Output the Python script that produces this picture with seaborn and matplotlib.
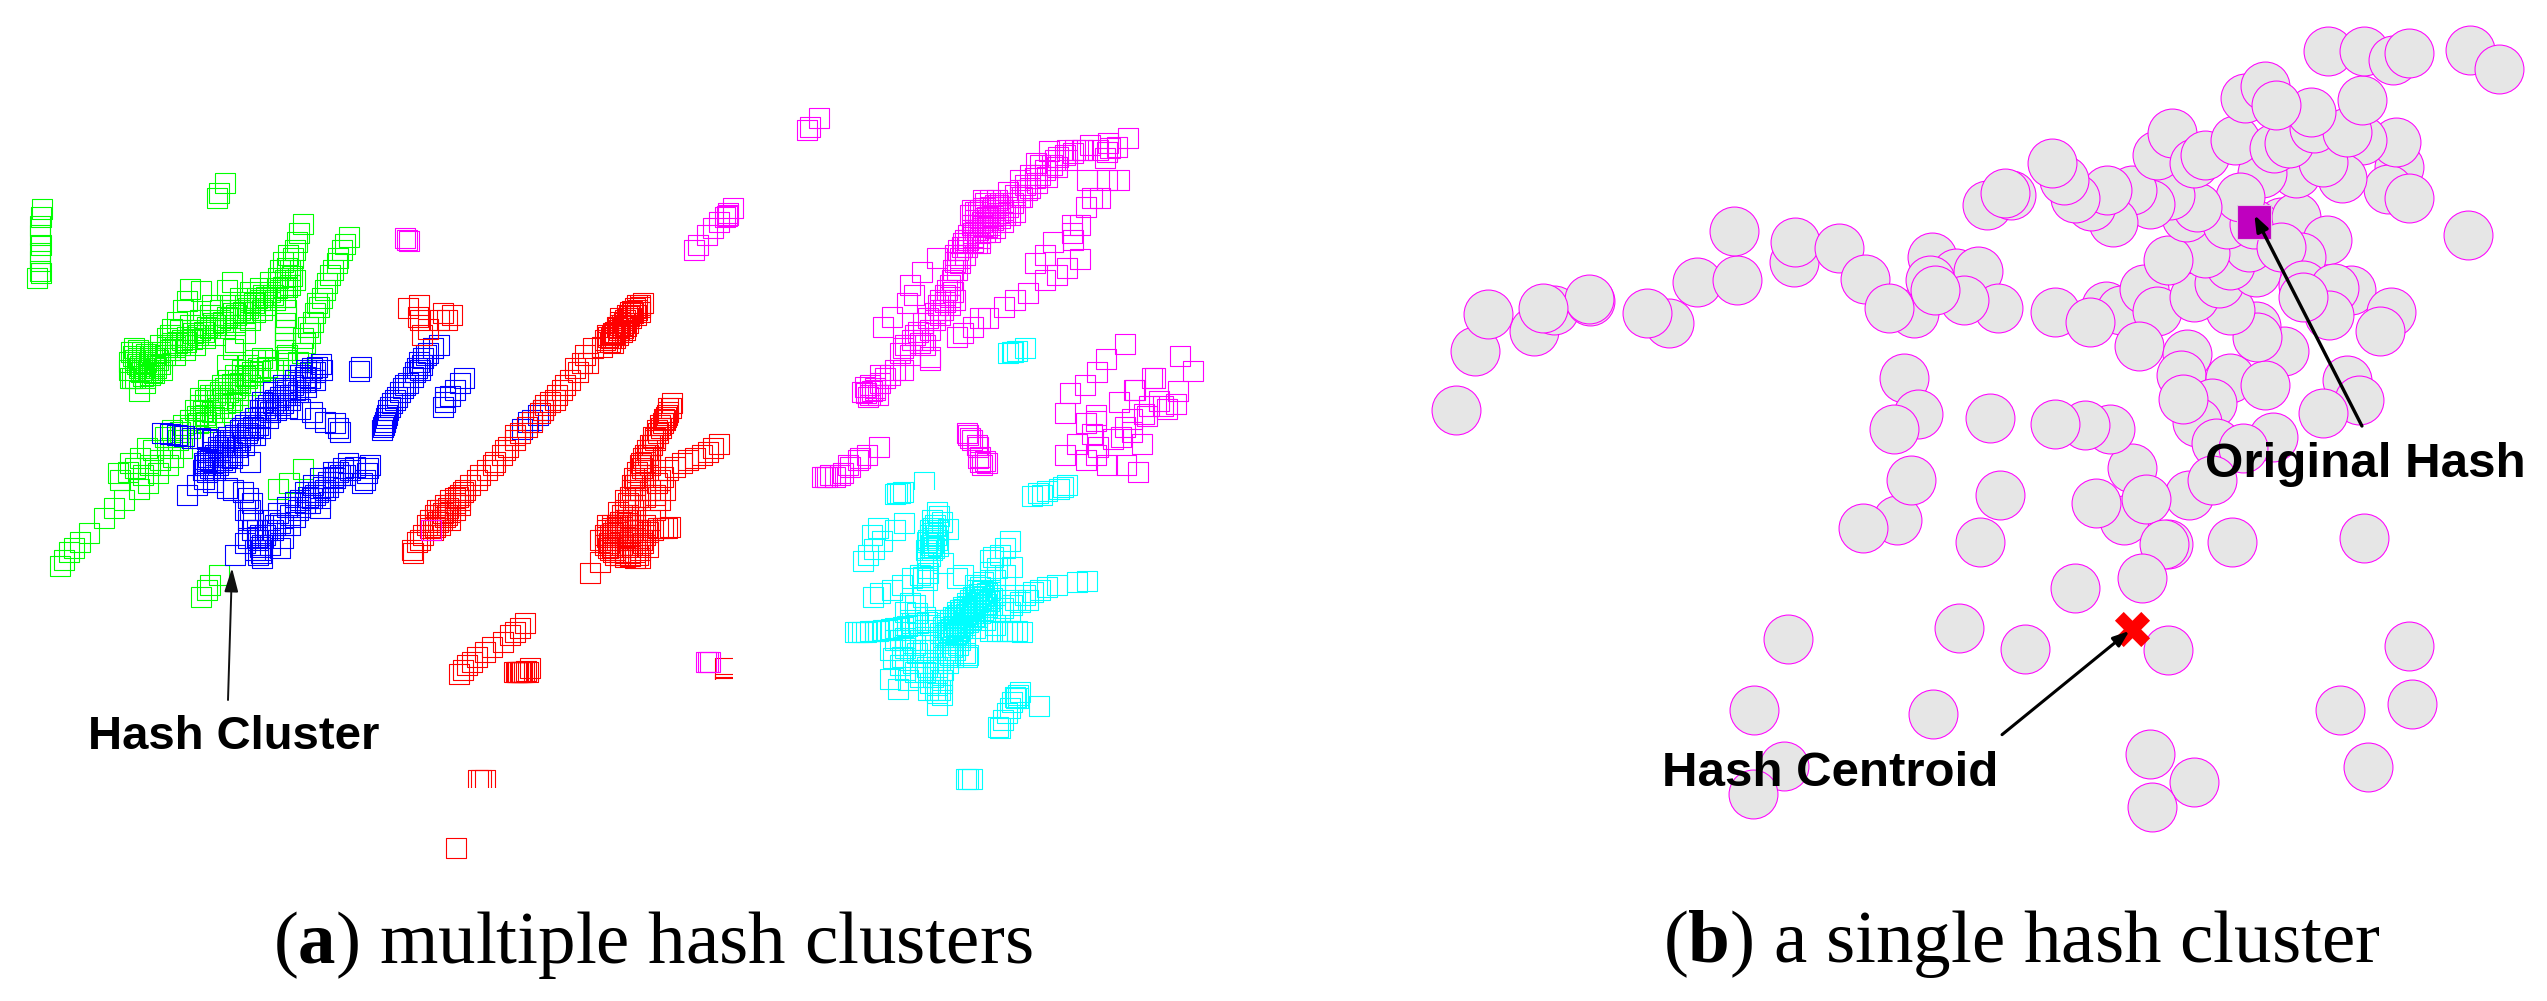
import pandas as pd
import seaborn as sns
import matplotlib.pyplot as plt
from matplotlib.patches import Rectangle

sns.set_theme(style="white")
plt.rcParams['font.family'] = ['Liberation Sans', 'DejaVu Sans']
plt.rcParams['mathtext.fontset'] = 'custom'
plt.rcParams['mathtext.bf'] = 'Liberation Serif:bold'
plt.rcParams['mathtext.rm'] = 'Liberation Serif'

# Panel (a): hash positions per cluster
green_pts = [
    (225,183),(219,193),(217,198),
    (42,209),(41,217),(40,226),(40,235),(41,245),(40,253),(40,261),(40,271),(41,273),(37,278),
    (303,224),(299,233),(297,242),(295,250),(293,258),(287,268),(292,276),(280,270),(287,287),(285,297),
    (286,310),(286,317),(285,323),(285,330),(285,337),(285,343),(285,350),(286,360),(287,355),
    (349,237),(345,244),(342,250),(338,258),(337,263),(330,275),(327,283),(322,298),(319,307),(315,313),
    (313,322),(310,333),(305,343),(302,353),(298,362),(303,338),(308,327),(317,303),(325,290),(333,270),
    (131,352),(133,356),(135,360),(137,364),(139,368),(141,372),(143,376),(134,348),(138,350),(142,352),
    (146,354),(150,356),(154,358),(158,360),(138,358),(142,360),(146,362),(150,364),(154,366),(140,366),
    (144,368),(148,370),(152,372),(156,368),(160,364),(129,362),(129,370),(130,378),(145,378),(150,375),(135,378),
    (167,347),(172,343),(177,343),(182,340),(187,337),(193,333),(200,330),(207,327),(213,323),(220,320),
    (227,317),(233,313),(240,310),(245,305),(250,302),(257,298),(263,295),(270,292),(277,288),(283,287),
    (170,350),(175,347),(180,345),(186,342),(192,339),(198,335),(204,332),(210,328),(216,325),(223,322),
    (230,318),(236,315),(243,312),(165,355),(160,352),(248,308),(254,303),(260,300),(266,297),(273,295),
    (175,355),(185,350),(195,345),(205,338),(215,335),(225,328),(235,325),(245,318),(255,312),(265,305),(275,300),
    (160,345),(170,335),(180,330),(190,325),(200,320),(210,315),(220,310),(230,305),(240,298),(250,292),
    (260,288),(270,282),(278,278),(285,280),(290,285),(295,280),(290,270),(283,262),(288,255),
    (190,289),(201,291),(187,301),(183,310),(177,322),(172,329),(167,338),(232,282),(227,290),(212,305),
    (245,333),(235,342),(233,349),(227,365),(250,320),(262,310),
    (162,370),(154,373),(145,383),(132,378),(139,391),
    (60,566),(64,560),(69,552),(74,548),(80,542),(89,533),(104,518),(114,508),(124,500),(139,489),(148,483),
    (118,473),(130,463),(140,458),(147,448),(158,473),(168,465),(173,457),(182,448),(153,450),
    (120,480),(128,472),(135,468),(143,475),(150,465),(160,460),(170,448),(178,440),(165,437),(172,430),(180,432),
    (183,425),(190,420),(197,416),(203,411),(210,405),(217,400),(223,398),(228,392),(235,388),(240,383),
    (247,378),(253,375),(260,371),(267,367),(273,370),(278,368),(205,415),(212,412),(218,408),(225,403),
    (232,400),(238,395),(245,390),(250,385),(215,395),(220,392),(225,388),(232,384),(238,380),(245,376),(252,372),(258,368),
    (195,410),(200,405),(205,400),(210,395),(222,385),(228,380),(235,375),(242,370),(248,365),(255,360),(262,358),
    (268,360),(190,428),(198,423),(206,422),(214,417),(222,412),(230,408),(238,402),(200,398),(208,390),
    (303,469),(289,483),(278,489),
    (219,575),(210,585),(207,590),(201,597),
]
blue_pts = [
    (321,364),(317,367),(310,372),(305,377),(300,382),(293,385),(287,390),(280,397),(273,403),(267,410),
    (260,417),(253,427),(247,433),(240,440),
    (245,425),(240,430),(235,435),(230,440),(225,445),(220,450),(215,455),(210,460),(240,437),(235,442),
    (230,447),(225,452),(220,457),(215,462),(228,437),(223,442),(218,447),(213,452),(208,457),(205,465),
    (237,447),(232,452),(227,457),(222,460),
    (315,372),(305,382),(295,390),(285,395),(275,400),(265,408),(255,418),(290,395),(280,405),(270,412),
    (258,425),(248,430),(310,378),(283,385),(273,392),(262,402),
    (295,380),(300,375),(306,370),(312,368),(285,388),(278,400),(268,405),(260,410),(250,422),(242,428),(250,435),
    (244,445),(232,458),(218,465),(210,468),(203,470),(215,470),(225,462),(238,455),(255,435),(260,428),(268,418),
    (276,410),(283,403),(290,400),(298,392),(306,387),(315,380),(322,370),
    (162,433),(170,434),(177,435),(184,436),(192,438),(200,438),(207,439),(213,440),
    (204,463),(207,461),(213,463),(204,479),(207,472),(218,457),(250,462),(187,495),(197,485),(213,482),
    (227,488),(233,490),(243,492),(248,498),(252,503),(250,510),(253,520),(257,530),(257,537),(260,547),
    (261,553),(262,558),(261,550),(258,540),(235,555),(245,543),(248,538),
    (287,408),(300,409),(312,412),(315,418),(325,422),(335,423),(338,428),(340,432),
    (370,465),(368,468),(367,473),(365,480),(362,483),(348,463),(343,468),(338,472),(333,477),(328,482),
    (323,487),(318,492),(312,498),(305,503),(300,507),(295,517),(290,525),(283,538),(280,523),(273,530),
    (267,530),(340,475),(333,482),(328,487),(320,498),(310,503),(320,508),(300,500),(305,492),(313,485),(320,478),(333,472),
    (345,475),(350,470),(355,467),(335,478),(325,490),(315,495),(308,497),(298,510),(290,515),(283,525),(275,525),
    (265,535),(260,535),(270,520),(278,513),(287,507),(295,502),(255,550),(258,555),(262,545),(252,530),(248,520),
    (245,510),(270,545),(280,548),
    (361,367),(359,371),
    (439,345),(433,348),(428,353),(423,358),(422,365),(417,368),(419,362),(413,377),(408,383),(403,388),
    (397,397),(392,403),(388,410),(387,415),(385,422),(383,427),
    (426,355),(420,370),(415,372),(405,385),(400,392),(395,400),(390,407),(386,418),(384,425),(382,430),
    (464,378),(460,383),(455,390),(450,396),(445,402),(443,407),(445,397),
    (543,410),(538,415),(532,420),(528,422),(522,429),
]
red_pts = [
    (408,308),(419,305),(443,313),(452,315),(447,320),(418,317),(420,320),(428,329),(439,320),(422,335),
    (643,303),(640,307),(637,310),(633,313),(628,318),(625,320),(622,325),(618,328),(615,332),(612,335),
    (617,327),(620,322),(627,315),(630,312),(637,305),(613,333),(623,328),(628,323),(608,337),(605,340),
    (625,330),(618,335),(610,342),(607,335),(620,318),
    (640,305),(635,308),(632,311),(629,316),(624,323),(619,330),(614,334),(611,338),(622,332),(615,338),(607,342),
    (613,343),(620,325),(626,326),(631,318),(636,315),(640,312),
    (602,347),(593,348),(588,363),(582,363),(578,372),(570,380),(562,390),(557,395),(550,402),(543,410),
    (540,413),(532,422),(527,427),(520,433),(515,440),(508,447),(502,455),(495,462),(487,470),(477,480),
    (470,485),(463,492),(458,497),(455,503),(448,508),(443,513),(438,522),(435,527),(423,535),(417,542),(412,550),
    (585,355),(575,368),(565,385),(555,400),(545,405),(515,435),(505,450),(493,465),(480,475),(465,490),
    (460,495),(450,505),(445,510),(440,515),(445,517),(450,512),(435,520),(440,525),(450,520),(455,510),
    (460,505),(430,528),(413,553),(420,540),
    (440,510),(445,505),(450,500),(455,498),(460,500),(435,515),(430,520),(427,525),(433,530),(442,520),(447,515),(437,510),
    (672,403),(671,408),(668,412),(666,417),(663,423),(661,428),(658,433),(655,438),(652,445),(650,450),
    (648,455),(645,462),(642,468),(640,475),(637,480),(635,485),(632,490),(630,497),(628,503),(625,510),
    (622,515),(620,522),(617,527),(613,533),(610,540),(605,545),(612,525),(618,512),(625,500),(632,485),
    (640,465),(645,455),(655,440),(665,420),(640,490),(635,500),(625,520),(618,530),(615,540),
    (660,425),(657,430),(653,437),(650,445),(647,450),(643,458),(641,463),(637,472),(634,478),(668,408),(667,415),(664,419),
    (719,444),(713,448),(708,452),(702,455),(695,458),(688,460),(682,463),(675,467),(668,470),(663,477),
    (657,483),(650,490),(645,497),
    (607,530),(607,537),(609,543),(612,547),(615,550),(620,552),(625,553),(630,553),(635,552),(640,550),
    (612,535),(617,540),(622,545),(627,547),(632,545),(637,540),(612,528),(617,530),(622,530),(627,530),
    (632,530),(637,530),(620,537),(625,537),(630,538),(635,538),(617,525),(622,522),(627,520),(607,525),
    (640,545),(613,552),
    (610,535),(615,530),(620,525),(625,525),(630,525),(635,525),(640,530),(640,535),(642,540),(645,535),(645,525),
    (650,520),(655,510),(660,500),(655,495),(665,490),(660,480),(650,465),(645,470),(638,497),(633,510),(628,515),(622,527),
    (608,548),(615,555),(620,555),(625,557),(630,556),(635,558),(640,558),(600,540),(605,535),
    (670,527),(667,528),(663,528),(658,528),(653,530),(648,532),(643,543),(648,547),
    (638,555),(590,573),(600,562),(610,550),
    (459,674),(463,670),(467,665),(472,662),(477,657),(485,652),(492,647),(503,642),(510,635),(515,632),(520,628),(525,623),
    (514,672),(516,672),(517,672),(518,672),(520,672),(521,672),(522,672),(524,672),(526,671),(528,672),(530,668),
    (456,848),
]
red_cut_bottom = [(478,780),(481,780),(485,780)]
red_cut_right = [(725,668),(725,684),(725,687)]
magenta_pts = [
    (819,118),(810,127),(807,130),
    (733,208),(728,213),(725,217),(719,222),(713,228),(707,235),(698,245),(694,250),(728,215),(727,216),
    (405,238),(407,240),(409,241),(431,530),
    (868,397),(862,392),(870,395),(866,393),(872,391),(875,388),(880,383),(885,378),(890,375),(895,370),
    (875,390),(870,385),(880,375),(865,387),(878,395),(905,345),(915,335),(925,345),(910,355),(935,320),(930,330),(940,315),
    (903,370),(930,360),(920,343),(923,340),(900,353),(903,348),(912,340),(918,332),(923,323),(928,318),
    (935,313),(943,310),(945,302),(950,297),(947,290),(952,280),(957,270),(960,263),(953,270),(958,250),
    (962,247),(967,247),(977,243),(973,237),(980,233),(987,227),(993,220),(1000,213),(987,217),(983,208),
    (985,203),(993,207),(1000,207),(1008,207),(1013,203),(1020,197),(1027,190),(1037,183),(1047,177),
    (1057,167),(1067,160),(1073,153),(1083,150),
    (975,230),(978,225),(982,222),(985,218),(990,215),(995,210),(998,205),(980,215),(975,220),(972,225),
    (968,235),(965,240),(990,225),(985,232),(980,238),(1000,218),(995,222),(978,212),(983,200),(990,200),(997,200),(972,210),
    (970,215),(975,212),(980,210),(985,208),(990,207),(995,205),(1000,203),(1003,210),(1005,215),(998,213),(993,216),
    (988,220),(983,226),(978,230),(973,233),(968,240),(963,243),(973,242),(980,243),(990,232),(995,228),(1003,222),
    (1010,215),(1015,212),(965,255),(960,258),(955,262),(955,255),(950,285),(953,292),(945,295),(940,300),(938,305),
    (950,305),(940,310),(955,300),
    (1025,185),(1035,178),(1045,170),(1055,160),(1065,155),(1075,150),(1090,145),(1098,150),(1110,148),(1040,165),
    (1030,175),(1020,190),(1015,195),
    (1049,151),(1036,163),(1020,180),(1008,192),(937,258),(922,272),(910,285),(914,295),(907,303),(892,317),(883,327),
    (1067,150),(1082,150),(1058,157),(1052,165),(1040,175),(1030,188),(1022,197),
    (1128,138),(1117,147),(1107,152),(1108,143),(1105,158),(1087,180),(1119,180),(1107,180),(1100,198),(1092,198),(1086,207),
    (1072,225),(1080,225),(1072,233),(1053,242),(1073,240),(1045,255),(1035,263),(1080,259),(1067,268),
    (1057,275),(1045,280),(1028,293),(1015,300),(1004,307),(980,318),(988,318),(963,333),(973,327),(957,337),(930,357),
    (1125,344),(1106,359),(1097,372),(1085,385),(1070,393),(1065,413),(1086,423),(1096,415),(1119,402),
    (1135,390),(1152,378),(1180,356),(1193,371),(1155,378),(1178,391),(1134,390),(1159,401),(1176,404),
    (1167,409),(1149,406),(1144,414),(1132,419),(1125,427),(1121,437),(1142,444),(1096,421),(1092,434),
    (1077,444),(1065,455),(1096,455),(1086,460),(1107,465),(1126,465),(1138,472),(1098,447),(1113,439),
    (1132,432),(1163,406),(1147,416),
    (967,433),(968,435),(970,438),(972,440),(977,445),(978,447),(978,458),(980,462),(982,465),(987,463),(985,461),(980,457),
    (879,447),(867,455),(858,460),(850,467),(843,473),(835,477),(825,477),(822,477),(830,475),(840,475),(848,465),(860,458),(827,477),
    (706,662),(708,662),(710,662),
]
cyan_pts = [
    (1025,348),(1017,351),(1013,352),(1012,352),(1008,353),
    (903,492),(900,493),(897,493),(895,494),
    (1067,485),(1063,487),(1059,489),(1047,491),(1042,495),(1032,496),(1038,493),
    (904,523),(895,530),(878,528),(872,535),(882,541),(874,549),(868,555),(863,561),
    (937,512),(939,516),(932,520),(942,522),(948,529),(930,530),(933,533),(927,542),(933,543),(937,540),
    (932,538),(930,547),(932,550),(927,558),(943,563),(927,568),(923,577),(928,573),(927,580),
    (935,525),(938,530),(930,535),(933,528),(936,535),(928,540),(931,545),(934,548),(938,546),(926,550),(930,556),
    (873,597),(880,593),(892,590),(902,585),(912,578),(920,575),(963,575),(957,578),
    (1010,541),(1005,548),(993,557),(997,568),(1012,567),(990,572),(983,582),(977,590),(970,600),(963,607),
    (957,612),(950,620),(943,627),(980,587),(973,597),(967,603),(960,610),(953,617),(947,623),(940,633),
    (983,610),(977,617),(970,620),(963,623),(957,627),(950,630),(987,607),(980,613),(973,613),(967,617),
    (960,620),(953,623),(947,630),(943,637),(950,637),(957,633),
    (945,635),(948,632),(951,629),(954,626),(957,623),(960,620),(963,617),(966,614),(969,611),(972,608),(975,605),
    (978,602),(981,599),(984,596),(987,593),(990,590),(950,640),(953,637),(956,634),(959,631),(962,628),(965,625),
    (968,622),(971,619),(974,616),(977,613),(980,610),(983,607),(986,604),(989,601),(992,598),(995,595),
    (955,618),(958,615),(961,612),(964,609),(967,606),(970,603),(973,600),(976,597),(979,594),(982,591),
    (1087,581),(1077,582),(1057,585),(1047,587),(1040,590),(1028,600),(1020,602),(1012,605),(1003,608),(1033,592),
    (1022,632),(1017,631),(1012,631),(1007,631),(1002,631),(997,631),(990,631),
    (855,632),(858,632),(878,631),(875,631),(883,630),(895,628),(903,627),(912,623),(918,623),(927,622),(935,620),
    (862,632),(866,632),(870,631),(887,630),(891,629),(899,628),(907,626),(945,620),
    (968,655),(965,653),(967,657),(953,657),(948,663),(943,670),(937,673),(942,680),(933,677),(940,690),
    (942,683),(937,705),(937,693),(928,690),(908,680),(898,689),(890,679),(893,658),(902,657),(905,648),
    (912,640),(905,638),(920,640),(910,603),(923,597),(917,613),(925,617),(923,650),(917,653),(927,667),
    (940,660),(947,653),(937,667),(933,663),(952,647),(913,663),(920,677),(930,683),
    (900,640),(905,645),(910,650),(915,645),(925,630),(930,625),(910,620),(905,612),(915,605),(895,640),(890,650),
    (900,665),(905,670),(915,672),(925,672),(935,690),(942,695),(948,640),(945,650),(950,655),(955,650),(958,645),
    (960,640),(965,635),(975,628),(985,620),(995,625),(1000,612),(1010,612),(1015,600),(1025,595),(990,560),(1000,555),
    (995,580),(1005,575),(985,600),(975,585),
    (1020,692),(1018,695),(1015,697),(1012,702),(1010,708),(1007,713),(1003,720),(1000,728),(998,727),(1039,706),(1018,698),(1016,698),
    (966,779),(968,779),(972,779),
]
cyan_cut_bottom = [(924,482)]

# Panel (b): hashes of one cluster, in that panel's own units
hash_pts = [
    (76,1230),(103,1053),(183,992),(210,930),(260,902),(258,897),(120,941),(195,925),(368,970),(337,939),
    (406,846),(461,841),(456,693),(539,787),(540,726),(600,745),(636,836),(703,938),(669,923),(727,771),
    (760,820),(725,840),(790,813),(817,925),(771,900),(732,871),(896,937),(965,917),(985,930),(943,965),
    (1017,868),(1035,932),(1010,1037),(1076,1062),(1068,1125),(1135,1135),(1110,1210),(1090,1265),(1070,1198),
    (1115,1330),(1193,1310),(1153,1345),(1000,1405),(970,1288),(937,1275),(896,1272),(806,1253),(689,1135),
    (708,1243),(675,1288),(1208,1052),(1183,1155),(1170,977),(1172,1012),(1135,930),(1085,890),(1120,850),
    (1170,815),(1135,795),(1160,740),(1100,760),(1050,780),(1075,650),(1130,672),(1205,665),(1167,672),
    (1225,650),(1267,720),(1232,770),(1205,740),(1235,855),(1300,870),(1277,865),(1355,935),(1340,993),
    (1270,945),(1235,890),(1295,1140),(1311,1200),(1262,1238),(1460,705),(1365,500),(1350,567),(1380,595),
    (1362,425),(1315,420),(1288,535),(1225,520),(1262,485),(1178,520),(1148,590),(1090,620),(1052,585),(1025,612),
    (1000,570),(975,665),(945,618),(967,570),(923,593),(908,540),(891,490),(803,615),(835,585),(827,580),
    (1035,465),(1055,400),(1085,490),(1100,465),(1141,420),(1195,445),(1215,430),(1250,385),(1295,395),
    (1155,295),(1182,258),(1245,335),(1197,315),(1315,300),(1268,153),(1318,152),(1358,180),(1380,160),(1463,150),(1503,208),
    (680,1559),(633,1584),(699,1439),(820,1484),(793,1626),(990,1561),(952,1510),(1078,1484),(1110,1440),(1020,1498),
    (1050,1632),(1045,1632),(1137,1626),(1318,1614),(923,1764),(1015,1735),(764,1885),(855,1947),(1050,1951),
    (531,1916),(1380,1937),(1383,2113),(1285,2131),(484,2130),(728,2143),(525,2299),(483,2381),(1025,2263),
    (1086,2346),(1028,2420),(1323,2302),
]
original_hash = [(1168,667)]
hash_centroid = [(1000,1888)]

cluster_colors = {'green': '#00ff00', 'blue': '#0000ff', 'red': '#ff0000', 'magenta': '#ff00ff', 'cyan': '#00ffff'}


def open_squares(ax, pts, color, clip=None):
    df = pd.DataFrame(pts, columns=['x', 'y'])
    sns.scatterplot(data=df, x='x', y='y', ax=ax, marker='s', s=200, facecolor='none',
                    edgecolor=color, linewidth=0.8, legend=False)
    if clip is not None:
        ax.collections[-1].set_clip_path(Rectangle(clip[:2], clip[2], clip[3], transform=ax.transData))


fig = plt.figure(figsize=(25.47, 10.01), dpi=100)
ax_a = fig.add_axes([0, 0, 1400 / 2547, 1])
ax_b = fig.add_axes([1400 / 2547, 0, 1147 / 2547, 1])

# (a) multiple hash clusters
open_squares(ax_a, green_pts, cluster_colors['green'])
open_squares(ax_a, blue_pts, cluster_colors['blue'])
open_squares(ax_a, red_pts, cluster_colors['red'])
open_squares(ax_a, red_cut_bottom, cluster_colors['red'], clip=(440, 760, 100, 28))
open_squares(ax_a, red_cut_right, cluster_colors['red'], clip=(700, 650, 33, 30))
open_squares(ax_a, magenta_pts, cluster_colors['magenta'])
open_squares(ax_a, cyan_pts, cluster_colors['cyan'])
open_squares(ax_a, cyan_cut_bottom, cluster_colors['cyan'], clip=(900, 460, 50, 30))
ax_a.set_xlim(0, 1400)
ax_a.set_ylim(1001, 0)
ax_a.annotate('', xy=(232, 568), xytext=(228, 700),
              arrowprops=dict(arrowstyle='-|>,head_width=0.35,head_length=1.2', color='#111111', lw=1.4, shrinkA=0, shrinkB=0))
ax_a.text(88, 749, 'Hash Cluster', fontsize=34, fontweight='bold', color='black', va='baseline')
ax_a.text(273, 963, r'($\mathbf{a}$) multiple hash clusters', fontsize=54, family='Liberation Serif', color='black', va='baseline')
ax_a.axis('off')

# (b) a single hash cluster
sns.scatterplot(data=pd.DataFrame(hash_pts, columns=['x', 'y']), x='x', y='y', ax=ax_b, marker='o', s=1240,
                facecolor='#e6e6e6', edgecolor='#ff00ff', linewidth=0.75, legend=False)
sns.scatterplot(data=pd.DataFrame(original_hash, columns=['x', 'y']), x='x', y='y', ax=ax_b, marker='s', s=620,
                color='#bf00bf', edgecolor='#e0c8e0', linewidth=0.8, legend=False)
sns.scatterplot(data=pd.DataFrame(hash_centroid, columns=['x', 'y']), x='x', y='y', ax=ax_b, marker='X', s=640,
                color='#ff0000', edgecolor='#ff0000', linewidth=0, legend=False)
ax_b.set_xlim(0, 1568)
ax_b.set_ylim(3003, 0)
ax_b.annotate('', xy=(1168, 645), xytext=(1315, 1278),
              arrowprops=dict(arrowstyle='-|>,head_width=0.3,head_length=0.8', color='black', lw=2.4, shrinkA=0, shrinkB=0))
ax_b.annotate('', xy=(997, 1893), xytext=(823, 2204),
              arrowprops=dict(arrowstyle='-|>,head_width=0.3,head_length=0.8', color='black', lw=2.2, shrinkA=0, shrinkB=0))
ax_b.text(1100, 1431, 'Original Hash', fontsize=35.5, fontweight='bold', color='black', va='baseline')
ax_b.text(358, 2357, 'Hash Centroid', fontsize=35.5, fontweight='bold', color='black', va='baseline')
ax_b.text(360, 2886, r'($\mathbf{b}$) a single hash cluster', fontsize=54, family='Liberation Serif', color='black', va='baseline')
ax_b.axis('off')

plt.savefig('out.png', dpi=100)
plt.close()
